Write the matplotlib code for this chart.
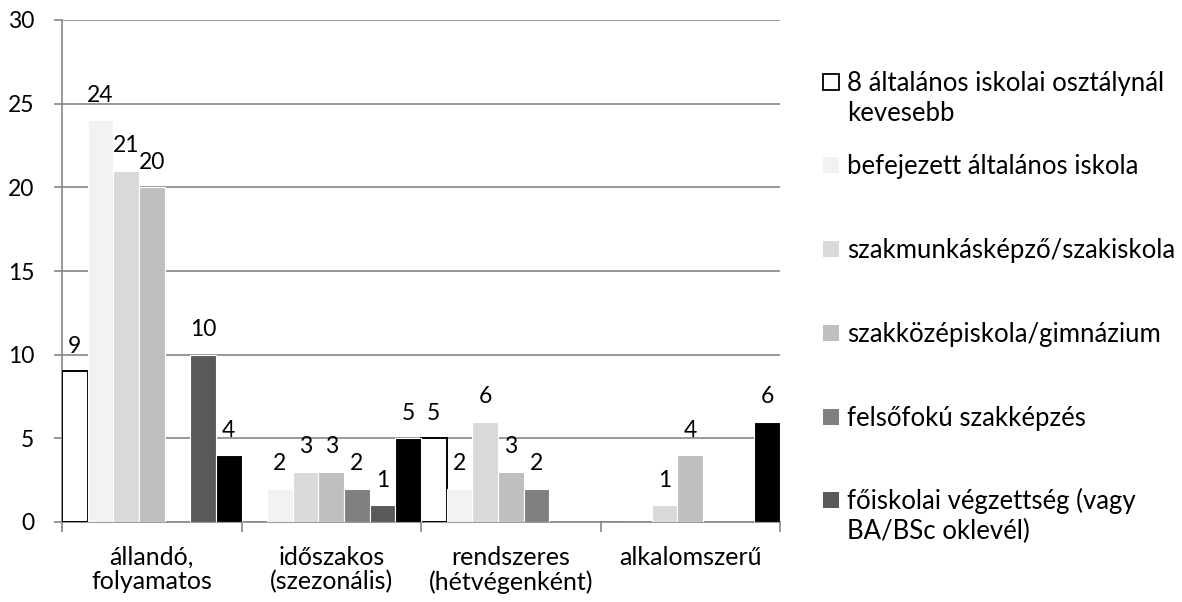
import matplotlib.pyplot as plt
import numpy as np
from matplotlib.patches import Rectangle

plt.rcParams['font.family'] = ['Lato', 'DejaVu Sans']

categories = ['állandó,\nfolyamatos', 'időszakos\n(szezonális)',
              'rendszeres\n(hétvégenként)', 'alkalomszerű']
series_names = ['8 általános iskolai osztálynál\nkevesebb',
                'befejezett általános iskola',
                'szakmunkásképző/szakiskola',
                'szakközépiskola/gimnázium',
                'felsőfokú szakképzés',
                'főiskolai végzettség (vagy\nBA/BSc oklevél)',
                'egyetemi végzettség']
colors = ['#FFFFFF', '#F2F2F2', '#D9D9D9', '#BFBFBF', '#808080', '#595959', '#000000']
values = [
    [9, 0, 5, 0],
    [24, 2, 2, 0],
    [21, 3, 6, 1],
    [20, 3, 3, 4],
    [0, 2, 2, 0],
    [10, 1, 0, 0],
    [4, 5, 0, 6],
]

W, H = 1182, 602
fig = plt.figure(figsize=(W / 100, H / 100), dpi=100)
ax = fig.add_axes([62 / W, 1 - 522 / H, (780 - 62) / W, (522 - 20) / H])

n = len(series_names)
bw = 1.0 / n
x = np.arange(len(categories))
grid_c = '#868686'
txt_size = 18.5
num_size = 16.5

for i, (vals, c) in enumerate(zip(values, colors)):
    pos = x - 0.5 + bw * (i + 0.5)
    if i == 0:
        bars = ax.bar(pos, vals, width=bw, color=c, edgecolor='black',
                      linewidth=[1.4 if v else 0 for v in vals], zorder=3)
    else:
        bars = ax.bar(pos, vals, width=bw, color=c, edgecolor='white',
                      linewidth=0.8, zorder=3)
    for b, v in zip(bars, vals):
        if v:
            ax.annotate(str(v), (b.get_x() + b.get_width() / 2, v),
                        xytext=(0, 18), textcoords='offset points',
                        ha='center', va='center', fontsize=num_size)

ax.set_xlim(-0.5, len(categories) - 0.5)
ax.set_ylim(0, 30)
ax.set_yticks(range(0, 31, 5))
ax.yaxis.grid(True, color=grid_c, linewidth=1.2, zorder=0)
ax.set_axisbelow(True)
for s in ['top', 'right']:
    ax.spines[s].set_visible(False)
for s in ['left', 'bottom']:
    ax.spines[s].set_color(grid_c)
    ax.spines[s].set_linewidth(1.2)

ax.set_xticks(np.arange(len(categories) + 1) - 0.5)
ax.set_xticklabels([])
ax.set_xticks(x, minor=True)
ax.set_xticklabels(categories, minor=True, fontsize=18, linespacing=1.08)
ax.tick_params(axis='x', which='major', length=7, color=grid_c, width=1.2)
ax.tick_params(axis='x', which='minor', length=0, pad=17)
ax.tick_params(axis='y', length=6, color=grid_c, width=1.2, pad=14,
               labelsize=num_size)

# legend drawn by hand; the last series is cut off as in the original
leg_y = [82, 165, 249, 333, 417, 500]
for name, c, yy in zip(series_names[:6], colors[:6], leg_y):
    fig.patches.append(Rectangle((823 / W, 1 - (yy + 8) / H), 16 / W, 16 / H,
                                 transform=fig.transFigure, facecolor=c,
                                 edgecolor='black' if c == '#FFFFFF' else 'none',
                                 linewidth=1.3))
    first, *rest = name.split('\n')
    fig.text(847 / W, 1 - (yy + 9) / H, first, ha='left', va='baseline',
             fontsize=txt_size)
    for k, line in enumerate(rest):
        fig.text(847 / W, 1 - (yy + 9 + 30 * (k + 1)) / H, line, ha='left',
                 va='baseline', fontsize=txt_size)

fig.savefig('out.png', dpi=100)
